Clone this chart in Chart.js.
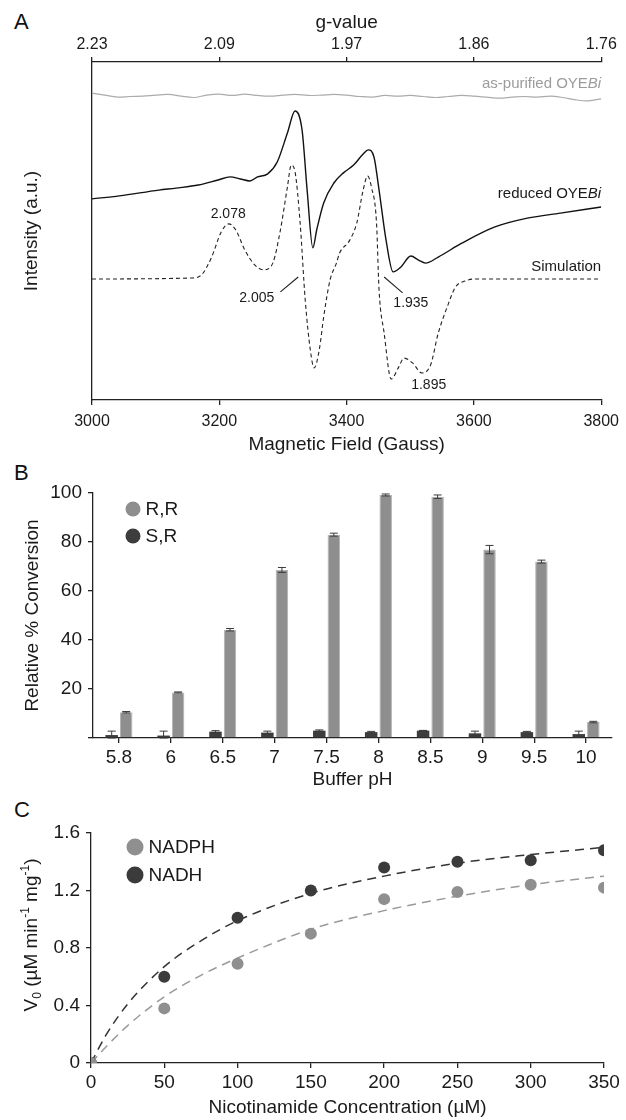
<!DOCTYPE html>
<html>
<head>
<meta charset="utf-8">
<script src="https://cdn.jsdelivr.net/npm/chart.js@4.4.1/dist/chart.umd.min.js"></script>
<style>
  body { margin: 0; background: #fff; width: 626px; height: 1120px; position: relative; overflow: hidden;
         font-family: 'Liberation Sans', Arial, Helvetica, sans-serif; }
  canvas { position: absolute; left: 0; }
  .letter { position: absolute; left: 14px; font-size: 22px; line-height: 22px; color: #111; }
</style>
</head>
<body>
<div class="letter" style="top:11px">A</div>
<div class="letter" style="top:462px">B</div>
<div class="letter" style="top:799px">C</div>
<canvas id="chartA" width="626" height="460" style="top:0"></canvas>
<canvas id="chartB" width="626" height="340" style="top:460px"></canvas>
<canvas id="chartC" width="626" height="330" style="top:790px"></canvas>
<script>
// ---- panel A: EPR spectra (field in Gauss, intensity in a.u.) ----
const gTicks = ['2.23', '2.09', '1.97', '1.86', '1.76'];

const purifiedField = [3000,3020,3040,3060,3080,3100,3120,3140,3160,3180,3200,3220,3240,3260,3280,3300,3320,3340,3360,3380,
                       3400,3420,3440,3460,3480,3500,3520,3540,3560,3580,3600,3620,3640,3660,3680,3700,3720,3740,3760,3780,3800];
const purifiedSignal = [90.8,90.2,89.6,89.8,89.9,90.2,90.4,89.9,89.5,90.2,90.5,90.1,90.5,90.1,89.9,90.2,90.4,90.1,90.2,90.4,
                        90.2,89.8,89.6,90.1,89.9,90.1,89.8,89.5,89.8,90.1,89.9,89.6,89.3,89.6,89.8,89.6,89.9,89.5,88.8,88.5,89.1];

const reducedField = [3000,3043,3105,3132,3167,3198,3217,3233,3248,3260,3276,3291,3307,3319,3330,3338,3347,3353,3364,3380,
                      3395,3411,3426,3434,3443,3451,3462,3473,3485,3501,3513,3524,3544,3581,3633,3684,3736,3800];
const reducedSignal = [59.5,60.4,62.1,62.7,63.6,65.1,66.0,65.4,64.8,66.0,66.9,70.4,79.0,85.5,79.9,62.1,45.0,50.3,58.3,64.2,
                       67.2,69.5,72.8,74.0,71.9,62.1,47.3,37.9,39.3,42.6,41.4,40.5,42.3,46.4,51.2,53.8,55.3,57.1];

const simField = [3000,3157,3172,3188,3203,3215,3226,3240,3256,3270,3284,3296,3307,3313,3319,3327,3335,3343,3349,3357,
                  3364,3374,3384,3389,3405,3416,3426,3433,3439,3447,3451,3459,3470,3482,3490,3504,3518,3532,3544,3558,
                  3571,3586,3602,3800];
const simSignal = [35.8,36.1,37.0,42.3,49.7,52.1,50.3,44.4,39.9,38.5,40.5,50.3,63.0,69.5,67.5,52.4,29.6,14.8,9.5,14.8,
                   24.6,35.5,40.5,43.5,47.3,52.4,62.1,66.3,63.0,52.4,32.5,19.8,6.2,9.8,12.4,10.9,8.0,10.4,19.8,27.5,
                   33.4,35.2,35.8,35.8];

// ---- panel B: conversion vs pH ----
const phLabels = ['5.8', '6', '6.5', '7', '7.5', '8', '8.5', '9', '9.5', '10'];
const rrConv = [10.5, 18.6, 44.2, 68.6, 83.0, 99.2, 98.5, 76.9, 72.0, 6.5];
const rrErr  = [0.3, 0.2, 0.5, 1.0, 0.6, 0.4, 0.7, 1.7, 0.6, 0.3];
const srConv = [1.2, 1.0, 2.6, 2.2, 3.0, 2.4, 3.0, 1.9, 2.4, 1.6];
const srErr  = [1.6, 1.8, 0.4, 0.6, 0.3, 0.3, 0.1, 0.9, 0.3, 1.2];

// ---- panel C: kinetics ----
const concentration = [0, 50, 100, 150, 200, 250, 300, 350];
const nadphRate = [0, 0.38, 0.69, 0.90, 1.14, 1.19, 1.24, 1.22];
const nadhRate  = [0, 0.60, 1.01, 1.20, 1.36, 1.40, 1.41, 1.48];
const fitConc   = [0, 10, 25, 50, 75, 100, 150, 200, 250, 300, 350];
const nadphFit  = [0, 0.11, 0.26, 0.46, 0.61, 0.73, 0.93, 1.06, 1.16, 1.24, 1.30];
const nadhFit   = [0, 0.19, 0.41, 0.67, 0.85, 0.99, 1.18, 1.30, 1.39, 1.45, 1.50];

const FONT = "'Liberation Sans', Arial, Helvetica, sans-serif";
const INK = '#222';
Chart.defaults.font.family = FONT;
Chart.defaults.color = '#1a1a1a';
Chart.defaults.animation = false;

const pairs = (xs, ys) => xs.map((x, i) => ({ x, y: ys[i] }));

// text with italic / sub / superscript runs
function drawRich(ctx, parts, x, y, align, size, color) {
  const fontFor = p => `${p.italic ? 'italic ' : ''}${(p.sub || p.sup) ? Math.round(size * 0.65) : size}px ${FONT}`;
  let w = 0;
  parts.forEach(p => { ctx.font = fontFor(p); w += ctx.measureText(p.t).width; });
  let cx = align === 'right' ? x - w : align === 'center' ? x - w / 2 : x;
  ctx.fillStyle = color;
  ctx.textAlign = 'left';
  ctx.textBaseline = 'middle';
  parts.forEach(p => {
    ctx.font = fontFor(p);
    const dy = p.sub ? size * 0.3 : p.sup ? -size * 0.32 : 0;
    ctx.fillText(p.t, cx, y + dy);
    cx += ctx.measureText(p.t).width;
  });
}

const axisGrid = { drawOnChartArea: false, tickLength: 5, color: INK, lineWidth: 1.3 };
const axisBorder = { color: INK, width: 1.3 };

// labels on the EPR plot, placed in data units
const eprNotes = {
  id: 'eprNotes',
  afterDatasetsDraw(chart) {
    const { ctx, scales: { x, y } } = chart;
    const notes = [
      { parts: [{ t: 'as-purified OYE' }, { t: 'Bi', italic: true }], at: [3800, 93.5], align: 'right', color: '#9c9c9c', size: 15 },
      { parts: [{ t: 'reduced OYE' }, { t: 'Bi', italic: true }], at: [3800, 60.9], align: 'right', color: '#1a1a1a', size: 15 },
      { parts: [{ t: 'Simulation' }], at: [3800, 39.3], align: 'right', color: '#1a1a1a', size: 15 },
      { parts: [{ t: '2.078' }], at: [3214, 55.0], align: 'center', color: '#1a1a1a', size: 14 },
      { parts: [{ t: '2.005' }], at: [3259, 30.2], align: 'center', color: '#1a1a1a', size: 14 },
      { parts: [{ t: '1.935' }], at: [3501, 28.7], align: 'center', color: '#1a1a1a', size: 14 },
      { parts: [{ t: '1.895' }], at: [3529, 4.4], align: 'center', color: '#1a1a1a', size: 14 }
    ];
    const leaders = [[[3296, 32.0], [3324, 36.4]], [[3459, 36.4], [3488, 31.7]]];
    ctx.save();
    notes.forEach(n => drawRich(ctx, n.parts, x.getPixelForValue(n.at[0]), y.getPixelForValue(n.at[1]), n.align, n.size, n.color));
    ctx.strokeStyle = '#222';
    ctx.lineWidth = 1.1;
    leaders.forEach(([a, b]) => {
      ctx.beginPath();
      ctx.moveTo(x.getPixelForValue(a[0]), y.getPixelForValue(a[1]));
      ctx.lineTo(x.getPixelForValue(b[0]), y.getPixelForValue(b[1]));
      ctx.stroke();
    });
    ctx.restore();
  }
};

new Chart(document.getElementById('chartA'), {
  type: 'line',
  data: {
    datasets: [
      { label: 'as-purified OYEBi', data: pairs(purifiedField, purifiedSignal), borderColor: '#ababab', borderWidth: 1.2,
        pointRadius: 0, tension: 0.35 },
      { label: 'reduced OYEBi', data: pairs(reducedField, reducedSignal), borderColor: '#111', borderWidth: 1.4,
        pointRadius: 0, cubicInterpolationMode: 'monotone' },
      { label: 'Simulation', data: pairs(simField, simSignal), borderColor: '#222', borderWidth: 1.1, borderDash: [4, 3],
        pointRadius: 0, cubicInterpolationMode: 'monotone' }
    ]
  },
  options: {
    responsive: false,
    layout: { padding: { left: 0, right: 19, top: 0, bottom: 0 } },
    plugins: { legend: { display: false }, tooltip: { enabled: false } },
    scales: {
      x: {
        type: 'linear', position: 'bottom', min: 3000, max: 3800,
        ticks: { stepSize: 200, padding: 7, font: { size: 16 }, callback: v => String(v) },
        grid: axisGrid, border: axisBorder,
        title: { display: true, text: 'Magnetic Field (Gauss)', font: { size: 19 }, padding: { top: 0, bottom: 3.6 } },
        afterFit: s => { s.height = 60; }
      },
      x2: {
        type: 'linear', axis: 'x', position: 'top', min: 3000, max: 3800,
        ticks: { stepSize: 200, padding: 2.4, font: { size: 16 }, callback: (v, i) => gTicks[i] },
        grid: axisGrid, border: axisBorder,
        title: { display: true, text: 'g-value', font: { size: 19 }, padding: { top: 11.6, bottom: 0 } },
        afterFit: s => { s.height = 62; }
      },
      y: {
        min: 0, max: 100,
        ticks: { display: false }, grid: { display: false }, border: axisBorder,
        title: { display: true, text: 'Intensity (a.u.)', font: { size: 19 }, padding: { top: 20.6, bottom: 0 } },
        afterFit: s => { s.width = 92; }
      }
    }
  },
  plugins: [eprNotes]
});

// error bars drawn through the y scale
const errorBars = {
  id: 'errorBars',
  afterDatasetsDraw(chart, args, opts) {
    const { ctx } = chart;
    const y = chart.scales.y;
    ctx.save();
    ctx.strokeStyle = opts.color;
    ctx.lineWidth = 1;
    chart.data.datasets.forEach((ds, i) => {
      const errs = opts.sets[i];
      chart.getDatasetMeta(i).data.forEach((bar, j) => {
        const v = ds.data[j], e = errs[j];
        if (!e) return;
        const top = y.getPixelForValue(v + e), bot = y.getPixelForValue(Math.max(0, v - e));
        ctx.beginPath();
        ctx.moveTo(bar.x, top); ctx.lineTo(bar.x, bot);
        ctx.moveTo(bar.x - opts.cap, top); ctx.lineTo(bar.x + opts.cap, top);
        ctx.moveTo(bar.x - opts.cap, bot); ctx.lineTo(bar.x + opts.cap, bot);
        ctx.stroke();
      });
    });
    ctx.restore();
  }
};

// round-dot legend taking labels and colours from the datasets
const dotLegend = {
  id: 'dotLegend',
  afterDraw(chart, args, opts) {
    const ctx = chart.ctx;
    ctx.save();
    opts.order.forEach((di, k) => {
      const ds = chart.data.datasets[di];
      const cy = opts.y + k * opts.gap;
      ctx.fillStyle = ds.backgroundColor;
      ctx.beginPath();
      ctx.arc(opts.x, cy, opts.r, 0, Math.PI * 2);
      ctx.fill();
      ctx.fillStyle = '#1a1a1a';
      ctx.font = `19px ${FONT}`;
      ctx.textAlign = 'left';
      ctx.textBaseline = 'middle';
      ctx.fillText(ds.label, opts.x + opts.r + 5, cy + 1);
    });
    ctx.restore();
  }
};

new Chart(document.getElementById('chartB'), {
  type: 'bar',
  data: {
    labels: phLabels,
    datasets: [
      { label: 'S,R', data: srConv, backgroundColor: '#3d3d3d' },
      { label: 'R,R', data: rrConv, backgroundColor: '#8e8e8e', borderColor: '#b4b4b4', borderWidth: 1 }
    ]
  },
  options: {
    responsive: false,
    categoryPercentage: 0.56,
    barPercentage: 0.86,
    layout: { padding: { left: 0, right: 14, top: 33, bottom: 0 } },
    plugins: {
      legend: { display: false }, tooltip: { enabled: false },
      errorBars: { sets: [srErr, rrErr], cap: 4, color: '#3a3a3a' },
      dotLegend: { order: [1, 0], x: 133, y: 49, gap: 27, r: 7.5 }
    },
    scales: {
      x: {
        ticks: { padding: 3.6, font: { size: 19 } },
        grid: { ...axisGrid, offset: false }, border: axisBorder,
        title: { display: true, text: 'Buffer pH', font: { size: 19 }, padding: { top: 0, bottom: 8.6 } },
        afterFit: s => { s.height = 62; }
      },
      y: {
        min: 0, max: 100,
        ticks: { stepSize: 20, padding: 6, font: { size: 19 }, callback: v => (v === 0 ? '' : v) },
        grid: axisGrid, border: axisBorder,
        title: { display: true, text: 'Relative % Conversion', font: { size: 19 }, padding: { top: 21.6, bottom: 0 } },
        afterFit: s => { s.width = 93; }
      }
    }
  },
  plugins: [errorBars, dotLegend]
});

// rotated y title with sub/superscripts
const rateTitle = {
  id: 'rateTitle',
  afterDraw(chart) {
    const ctx = chart.ctx;
    ctx.save();
    ctx.translate(32, 145);
    ctx.rotate(-Math.PI / 2);
    drawRich(ctx, [{ t: 'V' }, { t: '0', sub: true }, { t: ' (µM min' }, { t: '-1', sup: true },
                   { t: ' mg' }, { t: '-1', sup: true }, { t: ')' }], 0, 0, 'center', 19, '#1a1a1a');
    ctx.restore();
  }
};

new Chart(document.getElementById('chartC'), {
  type: 'scatter',
  data: {
    datasets: [
      { label: 'NADPH', data: pairs(concentration, nadphRate), backgroundColor: '#8f8f8f', pointRadius: 6, pointBorderWidth: 0 },
      { label: 'NADH', data: pairs(concentration, nadhRate), backgroundColor: '#3b3b3b', pointRadius: 6, pointBorderWidth: 0 },
      { label: 'NADPH fit', data: pairs(fitConc, nadphFit), showLine: true, pointRadius: 0, borderColor: '#9a9a9a',
        borderWidth: 1.5, borderDash: [9, 6], cubicInterpolationMode: 'monotone' },
      { label: 'NADH fit', data: pairs(fitConc, nadhFit), showLine: true, pointRadius: 0, borderColor: '#333',
        borderWidth: 1.5, borderDash: [9, 6], cubicInterpolationMode: 'monotone' }
    ]
  },
  options: {
    responsive: false,
    layout: { padding: { left: 0, right: 22, top: 43, bottom: 0 } },
    plugins: {
      legend: { display: false }, tooltip: { enabled: false },
      dotLegend: { order: [0, 1], x: 135, y: 57, gap: 28, r: 8.5 }
    },
    scales: {
      x: {
        type: 'linear', min: 0, max: 350,
        ticks: { stepSize: 50, padding: 3.6, font: { size: 19 } },
        grid: axisGrid, border: axisBorder,
        title: { display: true, text: 'Nicotinamide Concentration (µM)', font: { size: 19 }, padding: { top: 0, bottom: 0.6 } },
        afterFit: s => { s.height = 57; }
      },
      y: {
        min: 0, max: 1.6,
        ticks: { stepSize: 0.4, padding: 6, font: { size: 19 }, callback: v => (v === 0 ? '0' : v.toFixed(1)) },
        grid: axisGrid, border: axisBorder,
        afterFit: s => { s.width = 91; }
      }
    }
  },
  plugins: [dotLegend, rateTitle]
});
</script>
</body>
</html>
